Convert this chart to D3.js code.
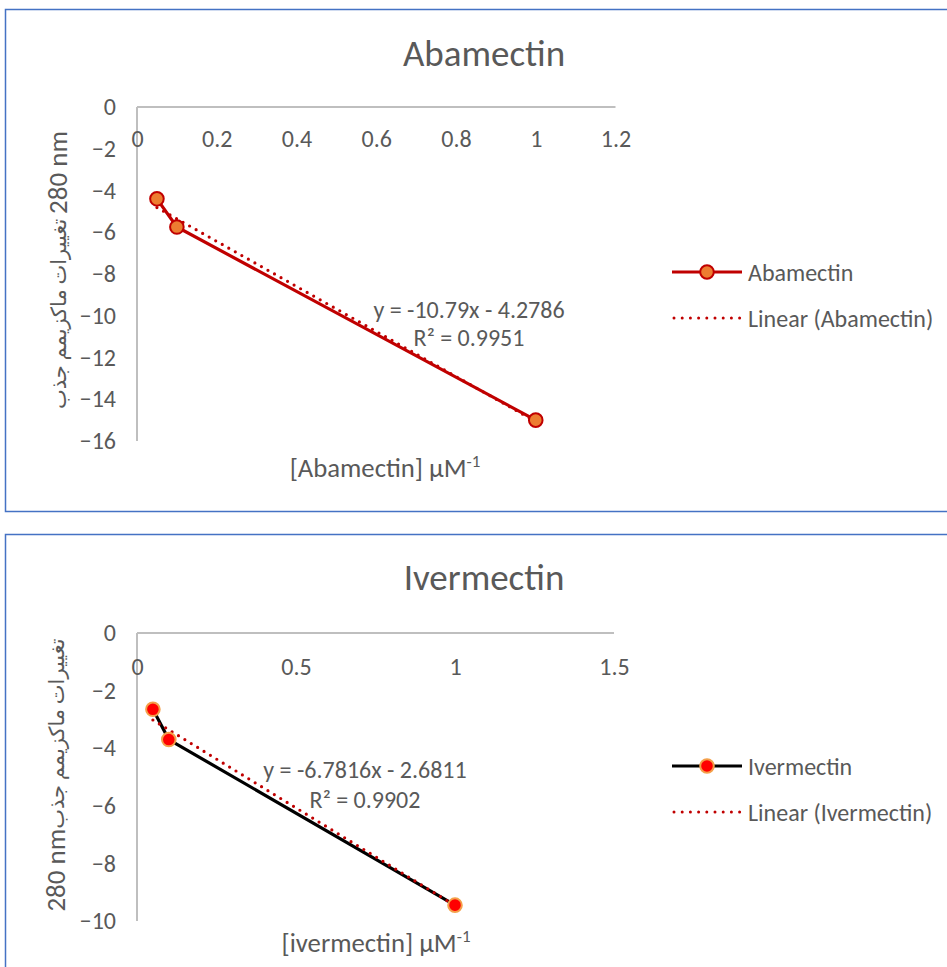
<!DOCTYPE html>
<html>
<head>
<meta charset="utf-8">
<script src="https://cdn.jsdelivr.net/npm/d3@7"></script>
<style>
  html, body { margin: 0; padding: 0; background: #fff; }
  svg { display: block; }
  text { font-family: Carlito, Lato, "Liberation Sans", "DejaVu Sans", sans-serif; fill: #595959; }
</style>
</head>
<body>
<svg id="chart" width="947" height="967"></svg>
<script>
// Reciprocal concentrations (µM^-1) and shift of the absorbance maximum at 280 nm
const abamectinX = [0.05, 0.1, 1];
const abamectinY = [-4.4, -5.75, -15];
const abamectinFit = { slope: -10.79, intercept: -4.2786, r2: "0.9951", eq: "y = -10.79x - 4.2786" };
const abamectinXTicks = [0, 0.2, 0.4, 0.6, 0.8, 1, 1.2];
const abamectinYTicks = [0, -2, -4, -6, -8, -10, -12, -14, -16];

const ivermectinX = [0.05, 0.1, 1];
const ivermectinY = [-2.65, -3.7, -9.45];
const ivermectinFit = { slope: -6.7816, intercept: -2.6811, r2: "0.9902", eq: "y = -6.7816x - 2.6811" };
const ivermectinXTicks = [0, 0.5, 1, 1.5];
const ivermectinYTicks = [0, -2, -4, -6, -8, -10];

// y title: Arabic words, then the wavelength (LRM keeps "280" left-to-right)
const yTitleArabic = "تغييرات ماكزيمم جذب";
const yTitleUnit = "\u200E280 nm";

const svg = d3.select("#chart");
const FS = 24;

function drawChart(o) {
  const g = svg.append("g");

  // chart frame
  g.append("rect")
    .attr("x", 5.5).attr("y", o.top + 0.5)
    .attr("width", 960).attr("height", o.frameH)
    .attr("fill", "#fff").attr("stroke", "#4472C4").attr("stroke-width", 1.5);

  const x = d3.scaleLinear().domain(o.xDomain).range(o.xRange);
  const y = d3.scaleLinear().domain(o.yDomain).range(o.yRange);

  // title
  g.append("text").attr("x", o.titleX).attr("y", o.titleY)
    .attr("text-anchor", "middle").attr("font-size", 37).attr("font-weight", 300)
    .text(o.title);

  // value axis (vertical) and category axis drawn at y = 0
  const yAxis = d3.axisLeft(y).tickValues(o.yTicks).tickSize(0).tickPadding(21)
    .tickFormat(d3.format("d"));
  const ya = g.append("g").attr("transform", `translate(${x(0)},0)`).call(yAxis);
  ya.select(".domain").attr("stroke", "#BFBFBF").attr("stroke-width", 2)
    .attr("d", `M0,${y(o.yDomain[1])}V${y(o.yDomain[0])}`);
  ya.selectAll("text").attr("font-size", FS).attr("fill", "#595959");

  const xAxis = d3.axisBottom(x).tickValues(o.xTicks).tickSize(0).tickPadding(o.xLabelPad)
    .tickFormat(d => String(d));
  const xa = g.append("g").attr("transform", `translate(0,${y(0)})`).call(xAxis);
  xa.select(".domain").attr("stroke", "#BFBFBF").attr("stroke-width", 2)
    .attr("d", `M${x(o.xDomain[0])},0H${x(o.xDomain[1])}`);
  xa.selectAll("text").attr("font-size", FS).attr("fill", "#595959");
  g.selectAll(".domain").raise();

  // y axis title
  const yt = g.append("text")
    .attr("transform", `translate(${o.yTitleX},${o.yTitleY}) rotate(-90)`)
    .attr("text-anchor", "middle").attr("dominant-baseline", "middle")
    .attr("direction", o.rtl ? "rtl" : "ltr")
    .attr("unicode-bidi", "embed");
  yt.append("tspan").attr("font-size", 21).text(yTitleArabic + (o.rtl ? "" : " "));
  yt.append("tspan").attr("font-size", 27).text(yTitleUnit);

  // x axis title with superscript
  const xt = g.append("text").attr("x", o.xTitleX).attr("y", o.xTitleY)
    .attr("text-anchor", "middle").attr("font-size", 26.7);
  xt.append("tspan").text(o.xTitle + " µM");
  xt.append("tspan").attr("font-size", 17).attr("dy", -10).text("-1");

  const pts = o.xs.map((v, i) => [v, o.ys[i]]);
  const line = d3.line().x(d => x(d[0])).y(d => y(d[1]));

  // series line
  g.append("path").datum(pts).attr("d", line)
    .attr("fill", "none").attr("stroke", o.lineColor).attr("stroke-width", 3.2);

  // linear trendline from the fitted equation
  const xe = d3.extent(o.xs);
  const fit = [xe[0], xe[1]].map(v => [v, o.fit.slope * v + o.fit.intercept]);
  g.append("path").datum(fit).attr("d", line)
    .attr("fill", "none").attr("stroke", "#C00000").attr("stroke-width", 3.2)
    .attr("stroke-linecap", "round").attr("stroke-dasharray", "0 7.5");

  // markers
  g.selectAll("circle.pt").data(pts).join("circle").attr("class", "pt")
    .attr("cx", d => x(d[0])).attr("cy", d => y(d[1])).attr("r", 6.8)
    .attr("fill", o.markerFill).attr("stroke", o.markerStroke).attr("stroke-width", 2);

  // equation label
  g.append("text").attr("x", o.eqX).attr("y", o.eqY).attr("text-anchor", "middle")
    .attr("font-size", FS).text(o.fit.eq);
  g.append("text").attr("x", o.eqX).attr("y", o.eqY + o.eqGap).attr("text-anchor", "middle")
    .attr("font-size", FS).text("R² = " + o.fit.r2);

  // legend
  const lx = 672, ly = o.legendY;
  g.append("line").attr("x1", lx).attr("x2", lx + 70).attr("y1", ly).attr("y2", ly)
    .attr("stroke", o.lineColor).attr("stroke-width", 3.2);
  g.append("circle").attr("cx", lx + 35).attr("cy", ly).attr("r", 6.8)
    .attr("fill", o.markerFill).attr("stroke", o.markerStroke).attr("stroke-width", 2);
  g.append("text").attr("x", lx + 76).attr("y", ly).attr("dominant-baseline", "central")
    .attr("font-size", FS).text(o.title);
  g.append("line").attr("x1", lx + 2).attr("x2", lx + 68).attr("y1", ly + 46).attr("y2", ly + 46)
    .attr("stroke", "#C00000").attr("stroke-width", 3).attr("stroke-linecap", "round")
    .attr("stroke-dasharray", "0 8.2");
  g.append("text").attr("x", lx + 76).attr("y", ly + 46).attr("dominant-baseline", "central")
    .attr("font-size", FS).text("Linear (" + o.title + ")");
}

drawChart({
  top: 9, frameH: 502, title: "Abamectin", titleX: 484, titleY: 66,
  xs: abamectinX, ys: abamectinY, fit: abamectinFit,
  xDomain: [0, 1.2], xRange: [137, 615.5], yDomain: [-16, 0], yRange: [441, 107],
  xTicks: abamectinXTicks, yTicks: abamectinYTicks, xLabelPad: 22.5,
  yTitleX: 61, yTitleY: 270, rtl: false,
  xTitle: "[Abamectin]", xTitleX: 385, xTitleY: 477,
  lineColor: "#C00000", markerFill: "#ED7D31", markerStroke: "#C00000",
  eqX: 469, eqY: 318, eqGap: 28, legendY: 272
});

drawChart({
  top: 534, frameH: 500, title: "Ivermectin", titleX: 484, titleY: 590,
  xs: ivermectinX, ys: ivermectinY, fit: ivermectinFit,
  xDomain: [0, 1.5], xRange: [137, 614], yDomain: [-10, 0], yRange: [921, 633],
  xTicks: ivermectinXTicks, yTicks: ivermectinYTicks, xLabelPad: 24.5,
  yTitleX: 59, yTitleY: 775, rtl: true,
  xTitle: "[ivermectin]", xTitleX: 376, xTitleY: 952,
  lineColor: "#000000", markerFill: "#FF0000", markerStroke: "#F4A04A",
  eqX: 365, eqY: 778, eqGap: 30, legendY: 766
});
</script>
</body>
</html>
